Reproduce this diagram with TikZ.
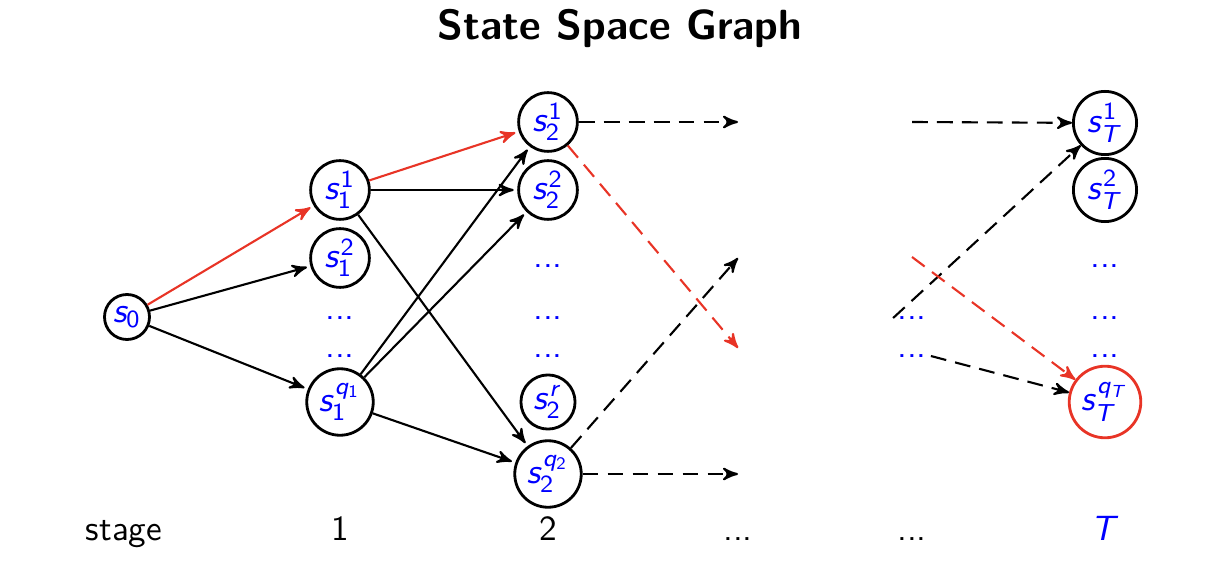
\documentclass[tikz,border=0pt]{standalone}
\usetikzlibrary{arrows}
\DeclareSymbolFont{operators}{OT1}{cmss}{m}{n}
\DeclareSymbolFont{letters}{OT1}{cmss}{m}{sl}
\definecolor{myred}{RGB}{232,52,38}

\begin{document}
\sffamily
\begin{tikzpicture}[x=0.01cm,y=-0.01cm,>=stealth',every node/.style={circle,draw,thick,inner sep=1pt,text=blue}]
  \useasboundingbox (0,0) rectangle (1218,570);
    \node (s0) at (127,317) {$s_0$};
    \node (s11) at (340,190) {$s_1^1$};
    \node (s12) at (340,258) {$s_1^2$};
    \node (s1q) at (340,402) {$s_1^{q_1}$};
    \node (s21) at (548,122) {$s_2^1$};
    \node (s22) at (548,190) {$s_2^2$};
    \node (s2r) at (548,402) {$s_2^r$};
    \node (s2q) at (548,474) {$s_2^{q_2}$};
    \node (sT1) at (1105,123) {$s_T^1$};
    \node (sT2) at (1105,190) {$s_T^2$};
    \node[draw=myred] (sTq) at (1105,402) {$s_T^{q_T}$};

  \begin{scope}[every node/.style={text=blue,inner sep=1pt}]
  \foreach \x/\y/\n in {340/318/d11,340/356/d12,548/266/d21,548/318/d22,548/356/d23,
                        912/318/d41,912/356/d42,1105/266/dT1,1105/318/dT2,1105/356/dT3}
    \node (\n) at (\x,\y) {...};
  \end{scope}

  % loose ends of the dashed arrows
  \coordinate (e1) at (738,122);
  \coordinate (e2) at (738,348);
  \coordinate (e3) at (738,258);
  \coordinate (e4) at (738,474);
  \coordinate (f1) at (912,122);
  \coordinate (f2) at (912,257);

  \begin{scope}[every node/.style={anchor=base}]
    \node (title) at (620,40) {\large\bfseries State Space Graph};
    \node (stage) at (124,540) {stage};
    \node (lbl1) at (340,540) {1};
    \node (lbl2) at (548,540) {2};
    \node (lbl3) at (738,540) {...};
    \node (lbl4) at (912,540) {...};
    \node[text=blue] (lblT) at (1105,540) {$T$};
  \end{scope}

  \foreach \from/\to in {s0/s12,s0/s1q,s11/s22,s11/s2q,s1q/s21,s1q/s22,s1q/s2q}
    \draw[->,semithick,shorten >=1pt] (\from) -- (\to);
  \foreach \from/\to in {s0/s11,s11/s21}
    \draw[->,semithick,shorten >=1pt,myred] (\from) -- (\to);

  \tikzset{dasharrow/.style={->,semithick,dash pattern=on 4.5pt off 2.6pt}}
  \foreach \from/\to in {s21/e1,s2q/e3,s2q/e4,f1/sT1,d41.west/sT1,d42.east/sTq}
    \draw[dasharrow] (\from) -- (\to);
  \foreach \from/\to in {s21/e2,f2/sTq}
    \draw[dasharrow,myred] (\from) -- (\to);
\end{tikzpicture}
\end{document}
